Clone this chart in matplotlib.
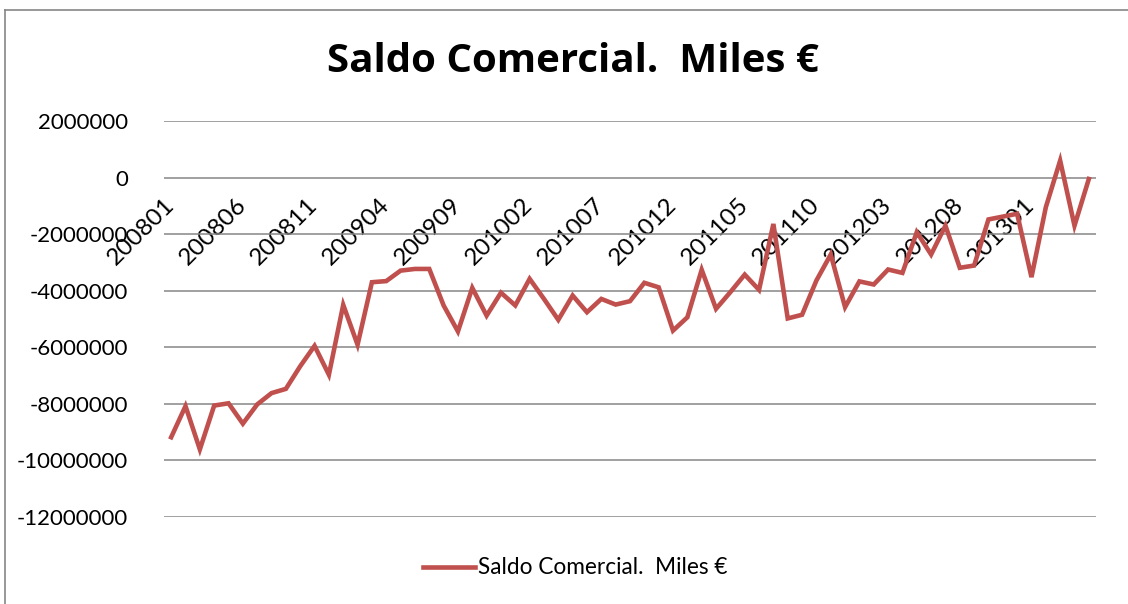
import numpy as np
import pandas as pd
import matplotlib
matplotlib.use("Agg")
import matplotlib.pyplot as plt
from matplotlib.lines import Line2D

plt.rcParams['font.family'] = ['Lato', 'DejaVu Sans']

# monthly periods 200801 .. 201305
months = [p.strftime("%Y%m") for p in pd.period_range("2008-01", "2013-05", freq="M")]

# saldo comercial, miles de euros
saldo = [
    -9180000, -8080000, -9610000, -8060000, -7980000, -8700000, -8020000, -7620000, -7470000, -6670000,
    -5950000, -6970000, -4500000, -5910000, -3700000, -3660000, -3290000, -3230000, -3230000, -4520000,
    -5440000, -3900000, -4880000, -4070000, -4520000, -3580000, -4290000, -5030000, -4170000, -4760000,
    -4290000, -4490000, -4370000, -3720000, -3880000, -5410000, -4940000, -3260000, -4640000, -4050000,
    -3430000, -3970000, -1640000, -4980000, -4850000, -3640000, -2720000, -4580000, -3670000, -3780000,
    -3250000, -3370000, -1930000, -2720000, -1700000, -3190000, -3110000, -1480000, -1380000, -1280000,
    -3520000, -1050000, 600000, -1700000, -50000,
]
yticks = [2000000, 0, -2000000, -4000000, -6000000, -8000000, -10000000, -12000000]
serie = "Saldo Comercial.  Miles \u20ac"

red = "#C0504D"
grid_c = "#868686"

fig = plt.figure(figsize=(11.28, 6.04), dpi=100)
ax = fig.add_axes([164/1128, 1 - 517/604, (1096 - 164)/1128, (517 - 121)/604])

x = np.arange(len(months))
ax.plot(x, saldo, color=red, lw=3.3, solid_joinstyle="miter", label=serie)

# category axis crosses at 0
ax.spines["bottom"].set_position(("data", 0))
for s in ax.spines.values():
    s.set_visible(False)

ax.set_xlim(-0.5, len(months) - 0.5)
ax.set_ylim(-12000000, 2000000)
ax.set_yticks(yticks)
ax.set_yticklabels([str(v) for v in yticks], fontsize=16)
ax.yaxis.grid(True, color=grid_c, lw=1.1)
ax.set_axisbelow(True)
ax.tick_params(axis="y", length=0, pad=26)

ax.set_xticks(x[::5])
ax.set_xticklabels(months[::5], rotation=45, ha="right", va="center",
                   rotation_mode="anchor", fontsize=17.5)
ax.tick_params(axis="x", length=0, pad=17)

fig.text(0.508, 1 - 62/604, serie, ha="center", va="center",
         fontsize=29, fontweight="bold", family=["Open Sans", "DejaVu Sans"])

fig.legend(loc="center", bbox_to_anchor=(0.51, 1 - 568/604), frameon=False,
           fontsize=16.3, handlelength=2.3, handletextpad=0.12)

# chart frame (only top and left edges visible)
fig.add_artist(Line2D([5/1128, 1.0], [1 - 9.5/604, 1 - 9.5/604],
                      transform=fig.transFigure, color=grid_c, lw=1.2))
fig.add_artist(Line2D([5/1128, 5/1128], [0.0, 1 - 9.5/604],
                      transform=fig.transFigure, color=grid_c, lw=1.2))

fig.savefig("out.png", dpi=100)
